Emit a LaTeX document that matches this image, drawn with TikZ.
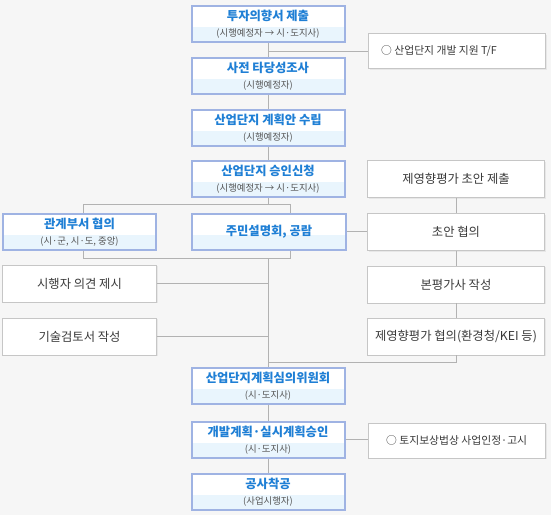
\documentclass[tikz,border=0pt]{standalone}
\usepackage{fontspec}
\setmainfont{Noto Sans CJK KR}
\usetikzlibrary{shadows}
\definecolor{bgcol}{HTML}{F6F6F6}
\definecolor{bborder}{HTML}{9FB3E3}
\definecolor{bsub}{HTML}{E9F5FD}
\definecolor{btitle}{HTML}{1F7FD5}
\definecolor{gborder}{HTML}{C6C6C6}
\definecolor{conncol}{HTML}{B2B2B2}
\definecolor{gtext}{HTML}{3A3A3A}
\definecolor{stext}{HTML}{555555}
\begin{document}
\begin{tikzpicture}[x=1pt,y=-1pt,
  bbox/.style={draw=bborder, line width=2pt, fill=white, minimum width=153pt,
    minimum height=36pt, inner sep=0pt,
    path picture={\fill[bsub] ([yshift=-3pt]path picture bounding box.west) rectangle (path picture bounding box.south east);}},
  ttl/.style={text=btitle, font=\bfseries\fontsize{12.3}{14}\selectfont, inner sep=0pt},
  subt/.style={text=stext, font=\fontsize{9.4}{11}\selectfont, inner sep=0pt},
  gbox/.style={draw=gborder, line width=0.8pt, fill=white, minimum width=177pt,
    minimum height=37pt, inner sep=0pt, text=gtext, font=\fontsize{12.3}{14}\selectfont,
    drop shadow={shadow xshift=1pt, shadow yshift=-1pt, opacity=0.12}},
  notetxt/.style={text=gtext, font=\fontsize{10.8}{12}\selectfont, inner sep=0pt, anchor=west},
  conn/.style={draw=conncol, line width=0.9pt}
]
\fill[bgcol] (0,0) rectangle (551,515);
\useasboundingbox (0,0) rectangle (551,515);

% center column blue boxes
\node[bbox] (b1) at (268,24) {};
\node[ttl] (b1t) at (268,16) {투자의향서 제출};
\node[subt] (b1s) at (268,34) {(시행예정자 → 시·도지사)};

\node[bbox] (b2) at (268,75.5) {};
\node[ttl] (b2t) at (268,67.5) {사전 타당성조사};
\node[subt] (b2s) at (268,85.5) {(시행예정자)};

\node[bbox] (b3) at (268,127.5) {};
\node[ttl] (b3t) at (268,119.5) {산업단지 계획안 수립};
\node[subt] (b3s) at (268,137.5) {(시행예정자)};

\node[bbox] (b4) at (268,179) {};
\node[ttl] (b4t) at (268,171) {산업단지 승인신청};
\node[subt] (b4s) at (268,189) {(시행예정자 → 시·도지사)};

\node[bbox] (bL) at (79.5,231.5) {};
\node[ttl] (bLt) at (79.5,223.5) {관계부서 협의};
\node[subt] (bLs) at (79.5,241.5) {(시·군, 시·도, 중앙)};

\node[bbox, minimum width=154pt] (bM) at (269,231.5) {};
\node[ttl] (bMt) at (269,232) {주민설명회, 공람};

\node[bbox] (b5) at (268,385.5) {};
\node[ttl] (b5t) at (268,377.5) {산업단지계획심의위원회};
\node[subt] (b5s) at (268,395.5) {(시·도지사)};

\node[bbox] (b6) at (268,439.5) {};
\node[ttl] (b6t) at (268,431.5) {개발계획·실시계획승인};
\node[subt] (b6s) at (268,449.5) {(시·도지사)};

\node[bbox] (b7) at (268,492) {};
\node[ttl] (b7t) at (268,484) {공사착공};
\node[subt] (b7s) at (268,502) {(사업시행자)};

% right column
\node[gbox] (r1) at (456,179) {제영향평가 초안 제출};
\node[gbox] (r2) at (456,232) {초안 협의};
\node[gbox] (r3) at (456,284.5) {본평가사 작성};
\node[gbox] (r4) at (456,336.5) {제영향평가 협의(환경청/KEI 등)};

% left column
\node[gbox, minimum width=154pt] (l1) at (79.5,283.5) {시행자 의견 제시};
\node[gbox, minimum width=154pt] (l2) at (79.5,336.5) {기술검토서 작성};

% notes
\node[gbox, minimum height=35pt] (n1) at (457,51) {};
\node[notetxt] (n1t) at (381,51) {○ 산업단지 개발 지원 T/F};
\node[gbox, minimum height=35pt] (n2) at (457,440.5) {};
\node[notetxt] (n2t) at (386,440.5) {○ 토지보상법상 사업인정·고시};

% junction coordinates
\coordinate (j1) at (268,204);
\coordinate (jl) at (83,204);
\coordinate (jr) at (290,204);
\coordinate (k1) at (268,258);
\coordinate (kl) at (83,258);
\coordinate (kr) at (290,258);
\coordinate (m) at (456,362);

% connectors
\draw[conn] (b1) -- (b2);
\draw[conn] (b1.south |- n1.west) -- (n1.west);
\draw[conn] (b2) -- (b3);
\draw[conn] (b3) -- (b4);
\draw[conn] (b4.south) -- (j1);
\draw[conn] (jl |- bL.north) -- (jl) -- (jr) -- (jr |- bM.north);
\draw[conn] (kl |- bL.south) -- (kl) -- (kr) -- (kr |- bM.south);
\draw[conn] (k1) -- (b5.north);
\draw[conn] (l1.east) -- (l1.east -| k1);
\draw[conn] (l2.east) -- (l2.east -| k1);
\draw[conn] (bM.east) -- (bM.east -| r2.west);
\draw[conn] (r1) -- (r2);
\draw[conn] (r2) -- (r3);
\draw[conn] (r3) -- (r4);
\draw[conn] (r4.south) -- (m) -- (m -| k1);
\draw[conn] (b5) -- (b6);
\draw[conn] (b6) -- (b7);
\draw[conn] (b6.east) -- (b6.east -| n2.west);
\end{tikzpicture}
\end{document}
